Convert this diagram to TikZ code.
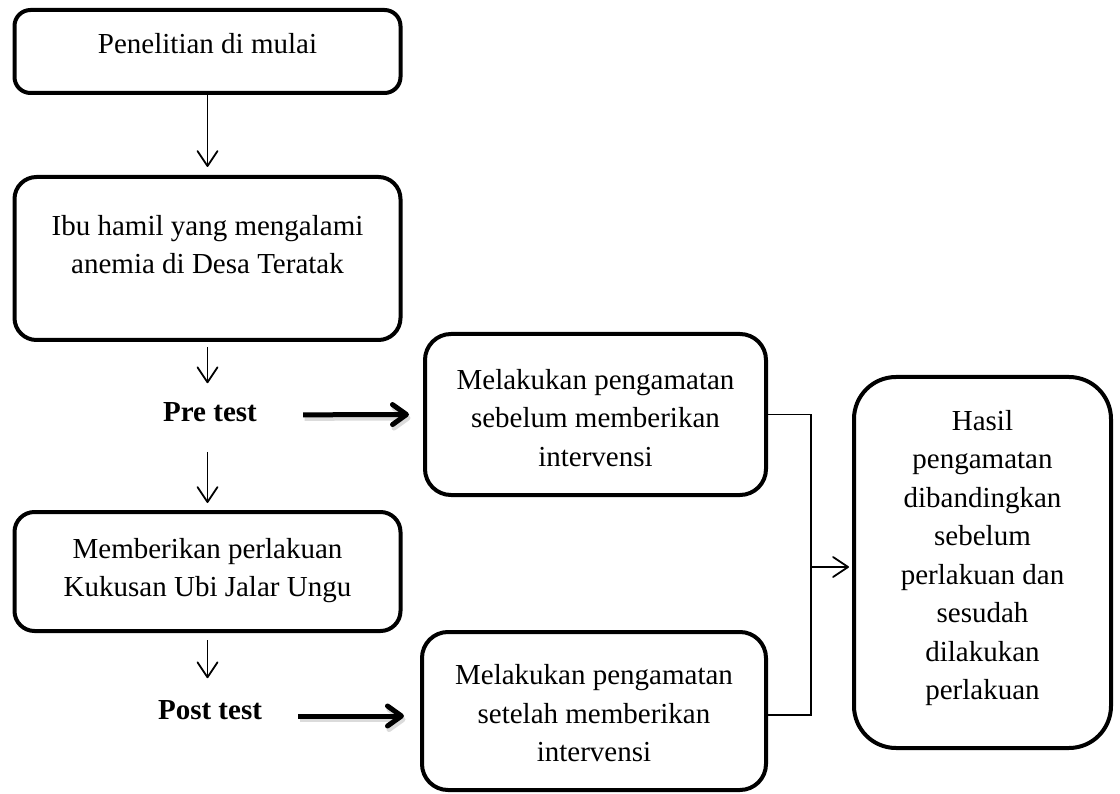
\documentclass[tikz,border=0pt]{standalone}
\usepackage{fontspec}
\setmainfont{Liberation Serif}
\usetikzlibrary{arrows.meta}
\begin{document}
\begin{tikzpicture}[x=1pt,y=-1pt,
  box/.style={draw, line width=4pt, rounded corners=#1, inner sep=0pt},
  box/.default=20pt,
  txt/.style={align=center, inner sep=0pt, font=\fontsize{29}{38.5}\selectfont},
  lbl/.style={inner sep=0pt, font=\fontsize{29}{38.5}\selectfont\bfseries},
  tarrow/.style={line width=1.8pt, -{Straight Barb[length=15pt,width=20pt,round]}},
  barrow/.style={line width=5pt, -{Straight Barb[length=14pt,width=20pt,round]}},
  bshadow/.style={barrow, draw=black!14, transform canvas={shift={(1.5pt,-3.5pt)}}},
  link/.style={line width=1.8pt},
]
\path[fill=white] (0,0) rectangle (1120,794);

% boxes
\node[box=16pt, minimum width=386pt, minimum height=83pt]  (b1) at (207.5,51.5) {};
\node[box=22pt, minimum width=386pt, minimum height=163pt] (b2) at (207.5,258.5) {};
\node[box=20pt, minimum width=386pt, minimum height=119pt] (b4) at (207.5,571.5) {};
\node[box=26pt, minimum width=341pt, minimum height=161pt] (b6) at (595.5,414.5) {};
\node[box=26pt, minimum width=344pt, minimum height=158pt] (b7) at (594,711) {};
\node[box=42pt, minimum width=257pt, minimum height=371pt] (b8) at (982.5,562.5) {};

% texts
\node[txt, anchor=north] (t1) at (207.5,33) {Penelitian di mulai};
\node[txt, anchor=north] (t2) at (207.5,215) {Ibu hamil yang mengalami\\anemia di Desa Teratak};
\node[txt, anchor=north] (t4) at (207.5,538) {Memberikan perlakuan\\Kukusan Ubi Jalar Ungu};
\node[txt, anchor=north] (t6) at (595.5,369) {Melakukan pengamatan\\sebelum memberikan\\intervensi};
\node[txt, anchor=north] (t7) at (594,664.5) {Melakukan pengamatan\\setelah memberikan\\intervensi};
\node[txt, anchor=north] (t8) at (982.5,410) {Hasil\\pengamatan\\dibandingkan\\sebelum\\perlakuan dan\\sesudah\\dilakukan\\perlakuan};
\node[lbl] (pre) at (210,412) {Pre test};
\node[lbl] (post) at (210,710) {Post test};

% vertical flow
\draw[tarrow, shorten >=8pt] (b1.south) -- (b2.north);
\draw[tarrow, shorten <=5pt, shorten >=19pt] (b2.south) -- (b2.south |- pre.north);
\draw[tarrow, shorten <=30pt, shorten >=7pt] (b4.north |- pre.south) -- (b4.north);
\draw[tarrow, shorten <=7pt, shorten >=22pt] (b4.south) -- (b4.south |- post.north);

% thick arrows (with faint shadow)
\draw[bshadow, shorten <=46pt] ([yshift=-3pt]pre.east) -- ([xshift=-14pt]b6.west);
\draw[bshadow, shorten <=36pt] ([yshift=-6pt]post.east) -- ([xshift=-16pt,yshift=-5pt]b7.west);
\draw[barrow, shorten <=46pt] ([yshift=-3pt]pre.east) -- ([xshift=-14pt]b6.west);
\draw[barrow, shorten <=36pt] ([yshift=-6pt]post.east) -- ([xshift=-16pt,yshift=-5pt]b7.west);

% bracket
\draw[link] (b6.east) -- ++(43,0) |- ([yshift=-4pt]b7.east);
\coordinate (j) at (811,567);
\draw[tarrow, shorten >=3pt] (j) -- (j -| b8.west);
\end{tikzpicture}
\end{document}
